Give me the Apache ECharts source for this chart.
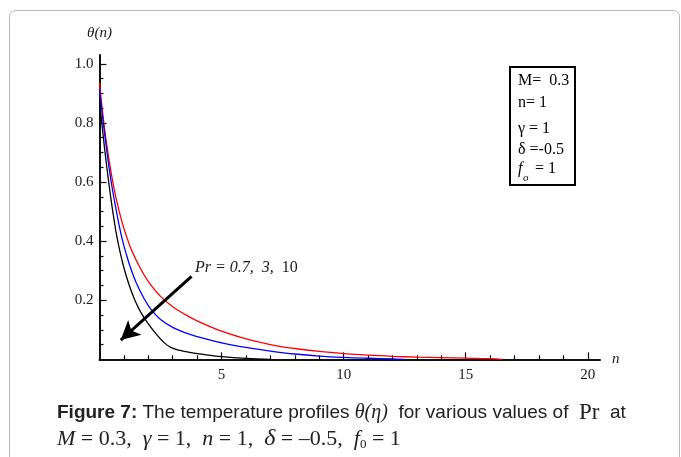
<!DOCTYPE html>
<html>
<head>
<meta charset="utf-8">
<script src="https://cdn.jsdelivr.net/npm/echarts@6/dist/echarts.min.js"></script>
<style>
html,body{margin:0;padding:0;background:#fff;}
#chart{width:681px;height:457px;}
</style>
</head>
<body>
<div id="chart"></div>
<script>
// ---- data ----
const pr07 = [[0,0.935],[0.2,0.785],[0.4,0.67],[0.6,0.576],[0.8,0.503],[1.0,0.443],[1.25,0.383],[1.5,0.336],[1.75,0.297],[2.0,0.263],[2.5,0.213],[3.0,0.178],[3.5,0.152],[4,0.130],[5,0.095],[6,0.069],[7,0.050],[8,0.0365],[9,0.0265],[10,0.0193],[11,0.014],[12,0.0102],[13,0.0074],[14,0.0054],[15,0.0039],[16,0.002],[16.5,0]];
const pr3 = [[0,0.914],[0.1,0.84],[0.2,0.77],[0.3,0.705],[0.4,0.645],[0.5,0.59],[0.65,0.52],[0.8,0.455],[0.95,0.40],[1.1,0.355],[1.25,0.315],[1.5,0.26],[1.83,0.205],[2.1,0.17],[2.5,0.135],[3.0,0.108],[3.5,0.09],[4.0,0.077],[4.5,0.066],[5,0.056],[6,0.04],[7,0.028],[8,0.018],[9,0.011],[10,0.0065],[11,0.0035],[12,0.0012],[12.5,0]];
const pr10 = [[0,0.873],[0.1,0.795],[0.2,0.72],[0.3,0.65],[0.4,0.585],[0.5,0.525],[0.6,0.47],[0.7,0.42],[0.85,0.36],[1.0,0.31],[1.2,0.255],[1.45,0.2],[1.7,0.158],[2.0,0.12],[2.3,0.088],[2.6,0.06],[2.9,0.041],[3.3,0.03],[3.8,0.022],[4.3,0.016],[5,0.009],[6,0.003],[7,0]];
const xMajorTicks = [5,10,15,20];
const xMinorTicks = [1,2,3,4,6,7,8,9,11,12,13,14,16,17,18,19];
const yMajorTicks = [0.2,0.4,0.6,0.8,1.0];
const yMinorTicks = [0.05,0.1,0.15,0.25,0.3,0.35,0.45,0.5,0.55,0.65,0.7,0.75,0.85,0.9,0.95];
const arrowFrom = [3.77,0.281];
const arrowTo = [0.87,0.065];

const serif = '"Liberation Serif","DejaVu Serif",serif';
const sans = '"Liberation Sans",Arial,sans-serif';
const X_MAX = 20.5, Y_MAX = 1.03;

const chart = echarts.init(document.getElementById('chart'), null, {renderer:'canvas'});

const axisLineStyle = {color:'#111', width:2};
const lineSeries = (name, data, color, extra) => Object.assign({
  name, type:'line', data, showSymbol:false, symbol:'none', smooth:0.4,
  lineStyle:{color, width:1.3}, z:3
}, extra || {});

const option = {
  backgroundColor:'#fff',
  animation:false,
  grid:{left:99.5, right:81, top:55, bottom:97.7, containLabel:false},
  xAxis:[{
    type:'value', min:0, max:X_MAX, position:'bottom',
    axisLine:{show:true, onZero:false, lineStyle:axisLineStyle},
    axisTick:{show:true, inside:true, length:7, customValues:xMajorTicks, lineStyle:{color:'#111', width:1.2}},
    axisLabel:{show:true, customValues:xMajorTicks, margin:8, fontFamily:serif, fontSize:15, color:'#1a1a1a'},
    splitLine:{show:false},
    name:'n', nameLocation:'end', nameGap:12,
    nameTextStyle:{fontFamily:serif, fontStyle:'italic', fontSize:15, color:'#1a1a1a', verticalAlign:'middle', padding:[8,0,0,0]}
  },{
    type:'value', min:0, max:X_MAX, position:'bottom',
    axisLine:{show:false, onZero:false},
    axisTick:{show:true, inside:true, length:4, customValues:xMinorTicks, lineStyle:{color:'#111', width:1.2}},
    axisLabel:{show:false},
    splitLine:{show:false}
  }],
  yAxis:[{
    type:'value', min:0, max:Y_MAX, position:'left',
    axisLine:{show:true, onZero:false, lineStyle:axisLineStyle},
    axisTick:{show:true, inside:true, length:7, customValues:yMajorTicks, lineStyle:{color:'#111', width:1.2}},
    axisLabel:{show:true, customValues:yMajorTicks, margin:6, fontFamily:serif, fontSize:15, color:'#1a1a1a',
      formatter:v=>v.toFixed(1)},
    splitLine:{show:false},
    name:'θ(n)', nameLocation:'end', nameGap:14,
    nameTextStyle:{fontFamily:serif, fontStyle:'italic', fontSize:15, color:'#1a1a1a', align:'center'}
  },{
    type:'value', min:0, max:Y_MAX, position:'left',
    axisLine:{show:false, onZero:false},
    axisTick:{show:true, inside:true, length:4, customValues:yMinorTicks, lineStyle:{color:'#111', width:1.2}},
    axisLabel:{show:false},
    splitLine:{show:false}
  }],
  series:[
    lineSeries('Pr = 0.7', pr07, '#ff0000'),
    lineSeries('Pr = 3', pr3, '#0000ff'),
    lineSeries('Pr = 10', pr10, '#000000', {
      markLine:{silent:true, symbol:['none','arrow'], symbolSize:[15,19], animation:false,
        label:{show:false},
        lineStyle:{color:'#000', width:3, type:'solid'},
        data:[[{coord:arrowFrom},{coord:arrowTo}]]}
    })
  ],
  graphic:[
    {type:'rect', shape:{x:9.5, y:10.5, width:670, height:470, r:6}, style:{fill:'none', stroke:'#b8b8b8', lineWidth:1}, silent:true, z:0},
    // annotation text
    {type:'text', x:195, y:268, style:{
      text:'{i|Pr = 0.7,  3,  }{u|10}',
      verticalAlign:'middle',
      rich:{i:{fontFamily:serif, fontStyle:'italic', fontSize:16, fill:'#1a1a1a'},
            u:{fontFamily:serif, fontSize:16, fill:'#1a1a1a'}}}, z:10},
    // parameter box
    {type:'rect', shape:{x:510, y:67, width:65, height:118}, style:{fill:'#fff', stroke:'#000', lineWidth:2}, z:10},
    {type:'text', x:518, y:81, style:{text:'M=  0.3', fontFamily:serif, fontSize:16, fill:'#000', verticalAlign:'middle'}, z:11},
    {type:'text', x:518, y:103, style:{text:'n= 1', fontFamily:serif, fontSize:16, fill:'#000', verticalAlign:'middle'}, z:11},
    {type:'text', x:518, y:129, style:{text:'γ = 1', fontFamily:serif, fontSize:16, fill:'#000', verticalAlign:'middle'}, z:11},
    {type:'text', x:518, y:150, style:{text:'δ =-0.5', fontFamily:serif, fontSize:16, fill:'#000', verticalAlign:'middle'}, z:11},
    {type:'text', x:518, y:169, style:{text:'f', fontFamily:serif, fontStyle:'italic', fontSize:16, fill:'#000', verticalAlign:'middle'}, z:11},
    {type:'text', x:523, y:178, style:{text:'o', fontFamily:serif, fontStyle:'italic', fontSize:11, fill:'#000', verticalAlign:'middle'}, z:11},
    {type:'text', x:535, y:169, style:{text:'= 1', fontFamily:serif, fontSize:16, fill:'#000', verticalAlign:'middle'}, z:11},
    // caption line 1
    {type:'text', x:57, y:413, style:{
      text:'{b|Figure 7:}{s| The temperature profiles }{th|θ(η)}{s|  for various values of  }{pr|Pr}{s|  at}',
      verticalAlign:'middle',
      rich:{
        b:{fontFamily:sans, fontWeight:'bold', fontSize:19, fill:'#222'},
        s:{fontFamily:sans, fontSize:19, fill:'#222'},
        th:{fontFamily:serif, fontStyle:'italic', fontSize:20, fill:'#222'},
        pr:{fontFamily:serif, fontSize:23, fill:'#222'}
      }}, z:10},
    // caption line 2
    {type:'text', x:57, y:439, style:{
      text:'{i|M} = 0.3,  {i|γ} = 1,  {i|n} = 1,  {d|δ} = –0.5,  {i|f}{sub|0} = 1',
      verticalAlign:'middle',
      rich:{
        i:{fontFamily:serif, fontStyle:'italic', fontSize:22, fill:'#222'},
        d:{fontFamily:serif, fontStyle:'italic', fontSize:24, fill:'#222'},
        sub:{fontFamily:serif, fontSize:13, fill:'#222', verticalAlign:'bottom', lineHeight:12, padding:[8,0,0,0]}
      },
      fontFamily:serif, fontSize:22, fill:'#222'}, z:10},
    {type:'text', x:410, y:449, style:{text:'.', fontFamily:serif, fontSize:14, fill:'#222'}, z:10}
  ]
};
chart.setOption(option);
</script>
</body>
</html>
